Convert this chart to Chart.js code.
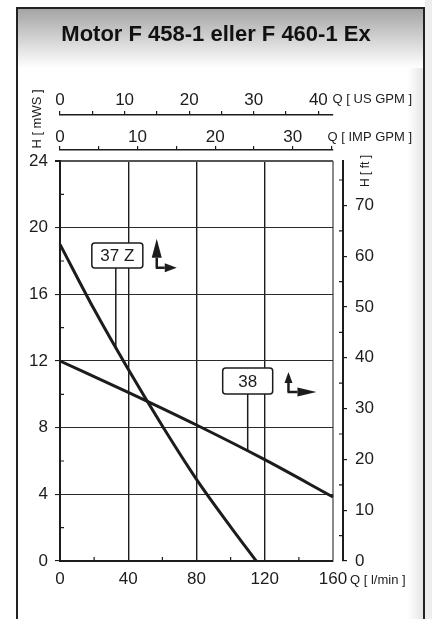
<!DOCTYPE html>
<html>
<head>
<meta charset="utf-8">
<script src="https://cdn.jsdelivr.net/npm/chart.js"></script>
<style>
  html, body { margin: 0; padding: 0; background: #fff; }
  canvas { display: block; }
</style>
</head>
<body>
<canvas id="pump" width="432" height="619"></canvas>
<script>
// curve data (Q in l/min, H in mWS)
const q37 = [0, 20, 40, 60, 80, 100, 115];
const h37 = [19, 15.1, 11.5, 8.1, 4.9, 2.05, 0];
const q38 = [0, 40, 80, 120, 160];
const h38 = [12, 10.12, 8.16, 6.08, 3.84];
const curveNames = ['37 Z', '38'];

// minor tick values on the three axes
const minorQ = [20, 60, 100, 140];
const minorH = [2, 6, 10, 14, 18, 22];
const minorFt = [5, 15, 25, 35, 45, 55, 65, 75];

const title = 'Motor F 458-1 eller F 460-1 Ex';
const M_TO_FT = 3.28084;
const LMIN_PER_USGPM = 3.785411784;
const LMIN_PER_IMPGPM = 4.54609;
const Q_MAX = 160, H_MAX = 24;

const FONT = "'Liberation Sans', Arial, sans-serif";
const INK = '#1c1c1c';
const FRAME = '#8a8a8a';

function pts(xs, ys) { return xs.map((x, i) => ({ x: x, y: ys[i] })); }
function hAt(xs, ys, q) {
  for (let i = 1; i < xs.length; i++) {
    if (q <= xs[i]) {
      const t = (q - xs[i - 1]) / (xs[i] - xs[i - 1]);
      return ys[i - 1] + t * (ys[i] - ys[i - 1]);
    }
  }
  return ys[ys.length - 1];
}

// labels on the curves: box centre in data units, leader at leadQ down to the curve
const tags = [
  { text: curveNames[0], q: 33.6, h: 18.33, w: 51, ht: 25, leadQ: 32.7, xs: q37, ys: h37 },
  { text: curveNames[1], q: 110, h: 10.8, w: 50, ht: 26, leadQ: 110, xs: q38, ys: h38 }
];
// the little up/right arrow pairs next to the labels
const arrowMarks = [
  { q: 56.7, h: 17.6, up: 29, upHead: 19, upHalf: 5, right: 20, rHead: 12, rHalf: 4.5 },
  { q: 133.9, h: 10.14, up: 20, upHead: 11, upHalf: 4, right: 28, rHead: 19, rHalf: 4.5 }
];

const tickFont = { family: FONT, size: 17, lineHeight: 1 };

const backdrop = {
  id: 'backdrop',
  beforeDraw(chart) {
    const c = chart.ctx;
    c.save();
    c.fillStyle = '#fff';
    c.fillRect(0, 0, chart.width, chart.height);
    // shade on the right side of the sheet
    let g = c.createLinearGradient(408, 0, 425, 0);
    g.addColorStop(0, '#ffffff');
    g.addColorStop(1, '#e2e2e2');
    c.fillStyle = g;
    c.fillRect(408, 8, 17, chart.height);
    c.fillStyle = '#ededed';
    c.fillRect(425, 0, 7, chart.height);
    // grey header band
    g = c.createLinearGradient(0, 9, 0, 68);
    g.addColorStop(0, '#a4a4a4');
    g.addColorStop(0.85, '#f2f2f2');
    g.addColorStop(1, '#ffffff');
    c.fillStyle = g;
    c.fillRect(18, 9, 406, 59);
    // frame
    c.strokeStyle = '#222';
    c.lineWidth = 2;
    c.beginPath();
    c.moveTo(17, chart.height);
    c.lineTo(17, 8);
    c.lineTo(424, 8);
    c.lineTo(424, chart.height);
    c.stroke();
    c.restore();
  },
  afterDatasetsDraw(chart) {
    const c = chart.ctx;
    const sx = chart.scales.x, sy = chart.scales.y, sft = chart.scales.yFt;
    const area = chart.chartArea;
    c.save();
    c.strokeStyle = INK;
    c.lineWidth = 1.2;
    // minor ticks, pointing into the plot
    c.beginPath();
    minorQ.forEach(v => { const p = sx.getPixelForValue(v); c.moveTo(p, area.bottom); c.lineTo(p, area.bottom - 4); });
    minorH.forEach(v => { const p = sy.getPixelForValue(v); c.moveTo(area.left, p); c.lineTo(area.left + 4, p); });
    minorFt.forEach(v => { const p = sft.getPixelForValue(v); c.moveTo(sft.left, p); c.lineTo(sft.left - 4, p); });
    c.stroke();

    // label boxes with leaders
    tags.forEach(t => {
      const cx = sx.getPixelForValue(t.q), cy = sy.getPixelForValue(t.h);
      const lx = sx.getPixelForValue(t.leadQ);
      const ly = sy.getPixelForValue(hAt(t.xs, t.ys, t.leadQ));
      c.lineWidth = 1.5;
      c.beginPath();
      c.moveTo(lx, cy + t.ht / 2);
      c.lineTo(lx, ly);
      c.stroke();
      c.beginPath();
      c.roundRect(cx - t.w / 2, cy - t.ht / 2, t.w, t.ht, 3);
      c.fillStyle = '#fff';
      c.fill();
      c.stroke();
      c.fillStyle = INK;
      c.font = '17px ' + FONT;
      c.textAlign = 'center';
      c.textBaseline = 'middle';
      c.fillText(t.text, cx, cy + 1);
    });

    // arrow pairs
    arrowMarks.forEach(a => {
      const x0 = sx.getPixelForValue(a.q), y0 = sy.getPixelForValue(a.h);
      c.fillStyle = INK;
      c.lineWidth = 2.5;
      c.beginPath();
      c.moveTo(x0, y0);
      c.lineTo(x0, y0 - a.up + a.upHead);
      c.moveTo(x0 - 1, y0);
      c.lineTo(x0 + a.right - a.rHead, y0);
      c.stroke();
      c.beginPath();
      c.moveTo(x0, y0 - a.up);
      c.lineTo(x0 - a.upHalf, y0 - a.up + a.upHead);
      c.lineTo(x0 + a.upHalf, y0 - a.up + a.upHead);
      c.closePath();
      c.fill();
      c.beginPath();
      c.moveTo(x0 + a.right, y0);
      c.lineTo(x0 + a.right - a.rHead, y0 - a.rHalf);
      c.lineTo(x0 + a.right - a.rHead, y0 + a.rHalf);
      c.closePath();
      c.fill();
    });

    // axis captions
    c.fillStyle = INK;
    c.font = '13px ' + FONT;
    c.textBaseline = 'middle';
    c.textAlign = 'right';
    c.fillText('Q [ US GPM ]', 412, chart.scales.xUs.bottom - 16);
    c.fillText('Q [ IMP GPM ]', 412, chart.scales.xImp.bottom - 13);
    c.textAlign = 'left';
    c.fillText('Q [ l/min ]', area.right + 17, sx.top + 19);
    c.save();
    c.translate(37, 119);
    c.rotate(-Math.PI / 2);
    c.textAlign = 'center';
    c.fillText('H [ mWS ]', 0, 0);
    c.restore();
    c.save();
    c.font = '12px ' + FONT;
    c.translate(sft.left + 23, area.top + 10);
    c.rotate(-Math.PI / 2);
    c.textAlign = 'center';
    c.fillText('H [ ft ]', 0, 0);
    c.restore();

    // title
    c.font = 'bold 22px ' + FONT;
    c.textAlign = 'center';
    c.fillStyle = '#111';
    c.fillText(title, 216, 35);
    c.restore();
  }
};

const noBox = { display: false };

new Chart(document.getElementById('pump'), {
  type: 'line',
  data: {
    datasets: [
      {
        label: curveNames[0],
        data: pts(q37, h37),
        borderColor: INK,
        borderWidth: 3,
        pointRadius: 0,
        cubicInterpolationMode: 'monotone',
        clip: 3
      },
      {
        label: curveNames[1],
        data: pts(q38, h38),
        borderColor: INK,
        borderWidth: 3,
        pointRadius: 0,
        cubicInterpolationMode: 'monotone',
        clip: 3
      }
    ]
  },
  options: {
    responsive: false,
    animation: false,
    layout: { padding: { top: 80, left: 0, right: 39, bottom: 28 } },
    plugins: { legend: { display: false }, tooltip: { enabled: false } },
    scales: {
      x: {
        type: 'linear', position: 'bottom', min: 0, max: Q_MAX,
        afterFit: s => { s.height = 30; },
        ticks: { stepSize: 40, padding: 10, color: INK, font: tickFont, autoSkip: false, maxRotation: 0 },
        grid: {
          drawTicks: false,
          color: ctx => ctx.tick && ctx.tick.value === Q_MAX ? FRAME : INK,
          lineWidth: ctx => ctx.tick && ctx.tick.value === Q_MAX ? 2 : 1.4
        },
        border: { color: INK, width: 2 }
      },
      y: {
        type: 'linear', position: 'left', min: 0, max: H_MAX,
        afterFit: s => { s.width = 60; },
        ticks: { stepSize: 4, padding: 7, color: INK, font: tickFont },
        grid: {
          tickLength: 5,
          tickColor: INK,
          color: ctx => ctx.tick && ctx.tick.value === H_MAX ? '#555' : '#2a2a2a',
          lineWidth: ctx => ctx.tick && ctx.tick.value === H_MAX ? 2 : 1.1
        },
        border: { color: INK, width: 2 }
      },
      yPad: {
        type: 'linear', position: 'right', weight: 0,
        afterFit: s => { s.width = 10; },
        ticks: { display: false }, grid: noBox, border: noBox
      },
      yFt: {
        type: 'linear', position: 'right', weight: 1, min: 0, max: H_MAX * M_TO_FT,
        afterFit: s => { s.width = 50; },
        ticks: { stepSize: 10, includeBounds: false, padding: 8, color: INK, font: tickFont },
        grid: { drawOnChartArea: false, tickLength: 4, color: INK, lineWidth: 1.2 },
        border: { color: INK, width: 2 }
      },
      xPad: {
        type: 'linear', position: 'top', weight: 0,
        afterFit: s => { s.height = 11; },
        ticks: { display: false }, grid: noBox, border: noBox
      },
      xImp: {
        type: 'linear', position: 'top', weight: 1, min: 0, max: Q_MAX / LMIN_PER_IMPGPM,
        afterFit: s => { s.height = 35; },
        ticks: {
          stepSize: 5, includeBounds: false, padding: 0, autoSkip: false, maxRotation: 0,
          color: INK, font: tickFont,
          callback: v => (v % 10 === 0 ? v : '')
        },
        grid: { drawOnChartArea: false, tickLength: 4, color: INK, lineWidth: 1.2 },
        border: { color: INK, width: 1.5 }
      },
      xUs: {
        type: 'linear', position: 'top', weight: 2, min: 0, max: Q_MAX / LMIN_PER_USGPM,
        afterFit: s => { s.height = 35; },
        ticks: {
          stepSize: 5, includeBounds: false, padding: 2, autoSkip: false, maxRotation: 0,
          color: INK, font: tickFont,
          callback: v => (v % 10 === 0 ? v : '')
        },
        grid: { drawOnChartArea: false, tickLength: 4, color: INK, lineWidth: 1.2 },
        border: { color: INK, width: 1.5 }
      }
    }
  },
  plugins: [backdrop]
});
</script>
</body>
</html>
